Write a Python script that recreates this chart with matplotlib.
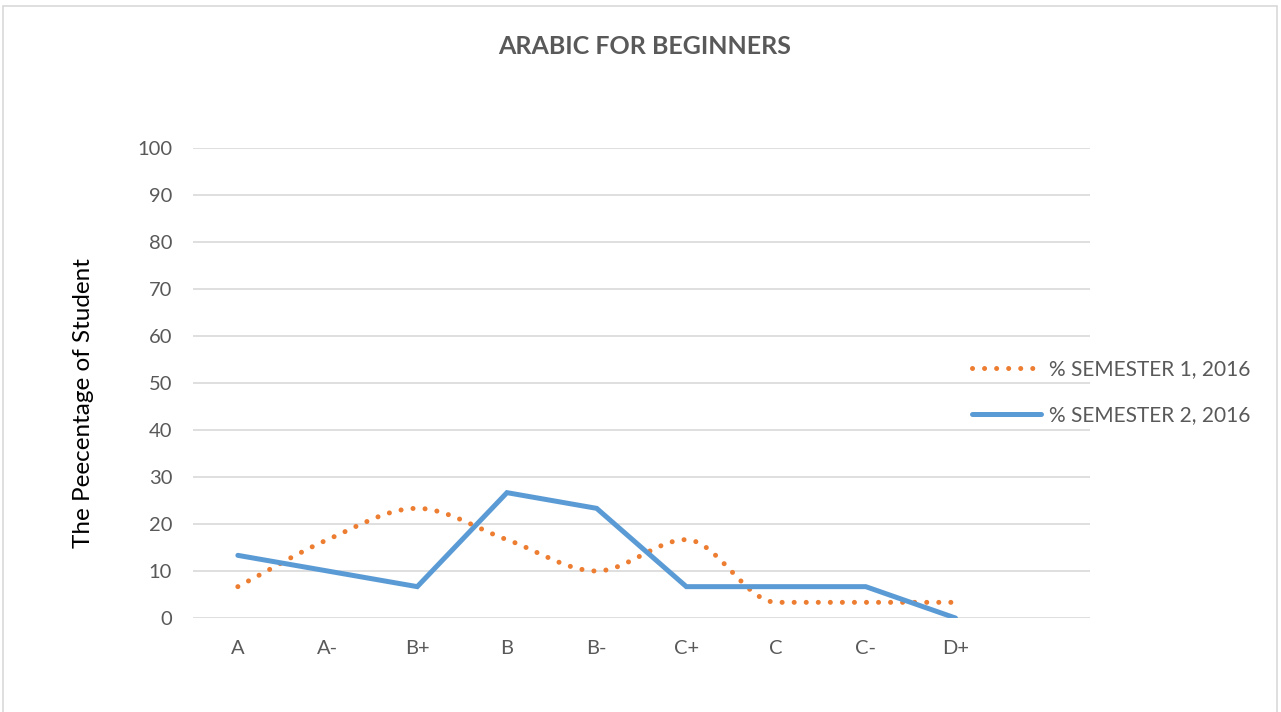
"""Line chart: grade distribution for Arabic for Beginners, two semesters."""

import matplotlib
matplotlib.use("Agg")
import matplotlib.pyplot as plt
from matplotlib.path import Path
from matplotlib.patches import PathPatch, Rectangle
from matplotlib.lines import Line2D

grades = ["A", "A-", "B+", "B", "B-", "C+", "C", "C-", "D+", ""]
sem1 = [6.67, 16.67, 23.33, 16.67, 10.0, 16.67, 3.33, 3.33, 3.33]
sem2 = [13.33, 10.0, 6.67, 26.67, 23.33, 6.67, 6.67, 6.67, 0.0]
labels = ["% SEMESTER 1, 2016", "% SEMESTER 2, 2016"]

ORANGE = "#ED7D31"
BLUE = "#5B9BD5"
GREY = "#595959"

plt.rcParams['font.family'] = ['Lato', 'DejaVu Sans']


def smooth_path(xs, ys):
    """Smoothed line as cubic Bezier segments, flat at peaks and plateaus."""
    n = len(xs)
    slopes = [(ys[i + 1] - ys[i]) / (xs[i + 1] - xs[i]) for i in range(n - 1)]
    tang = []
    for i in range(n):
        if i == 0:
            tang.append(slopes[0])
        elif i == n - 1:
            tang.append(slopes[-1])
        elif slopes[i - 1] * slopes[i] <= 0:
            tang.append(0.0)
        else:
            tang.append((slopes[i - 1] + slopes[i]) / 2.0)
    verts = [(xs[0], ys[0])]
    codes = [Path.MOVETO]
    for i in range(n - 1):
        h = (xs[i + 1] - xs[i]) / 3.0
        verts += [(xs[i] + h, ys[i] + tang[i] * h),
                  (xs[i + 1] - h, ys[i + 1] - tang[i + 1] * h),
                  (xs[i + 1], ys[i + 1])]
        codes += [Path.CURVE4] * 3
    return Path(verts, codes)


fig = plt.figure(figsize=(12.81, 7.12), dpi=100)
fig.patches.append(Rectangle((3 / 1281, -0.05), 1274 / 1281, 1 - 6 / 712 + 0.05,
                             transform=fig.transFigure, fill=False,
                             edgecolor="#d9d9d9", linewidth=1.2))

ax = fig.add_axes([193 / 1281, 1 - 618 / 712, 897 / 1281, 470 / 712])
x = list(range(len(sem1)))

dot_style = (0, (0.01, 2.4))
patch = PathPatch(smooth_path(x, sem1), fill=False, edgecolor=ORANGE,
                  linewidth=3.6, linestyle=dot_style, capstyle="round",
                  zorder=3)
ax.add_patch(patch)
ax.plot(x, sem2, color=BLUE, linewidth=3.6, solid_capstyle="round",
        solid_joinstyle="miter", zorder=4)

ax.set_xlim(-0.5, len(grades) - 0.5)
ax.set_ylim(0, 100)
ax.set_yticks(range(0, 101, 10))
ax.set_xticks(range(len(grades)))
ax.set_xticklabels(grades)
ax.grid(axis="y", color="#d9d9d9", linewidth=1.2)
ax.set_axisbelow(True)
for s in ax.spines.values():
    s.set_visible(False)
ax.tick_params(length=0, labelsize=14.5, colors=GREY)
ax.tick_params(axis="x", pad=16)
ax.tick_params(axis="y", pad=15)

# y label sits a little below the middle of the plot area, as in Excel
fig.text(84 / 1281, 1 - 403 / 712, "The Peecentage of Student",
         rotation=90, ha="center", va="center", fontsize=17.5,
         color="black")
fig.text(0.503, 1 - 46 / 712, "ARABIC FOR BEGINNERS", ha="center",
         va="center", fontsize=18, fontweight="bold", color=GREY)

handles = [
    Line2D([], [], color=ORANGE, linewidth=3.6, linestyle=dot_style,
           dash_capstyle="round"),
    Line2D([], [], color=BLUE, linewidth=3.6, solid_capstyle="round"),
]
fig.legend(handles, labels, loc="center left",
           bbox_to_anchor=(972 / 1281, 1 - 392 / 712), frameon=False,
           fontsize=15, labelcolor=GREY, handlelength=3.3,
           handletextpad=0.4, labelspacing=1.25, borderpad=0,
           borderaxespad=0)

fig.savefig("out.png", dpi=100)
